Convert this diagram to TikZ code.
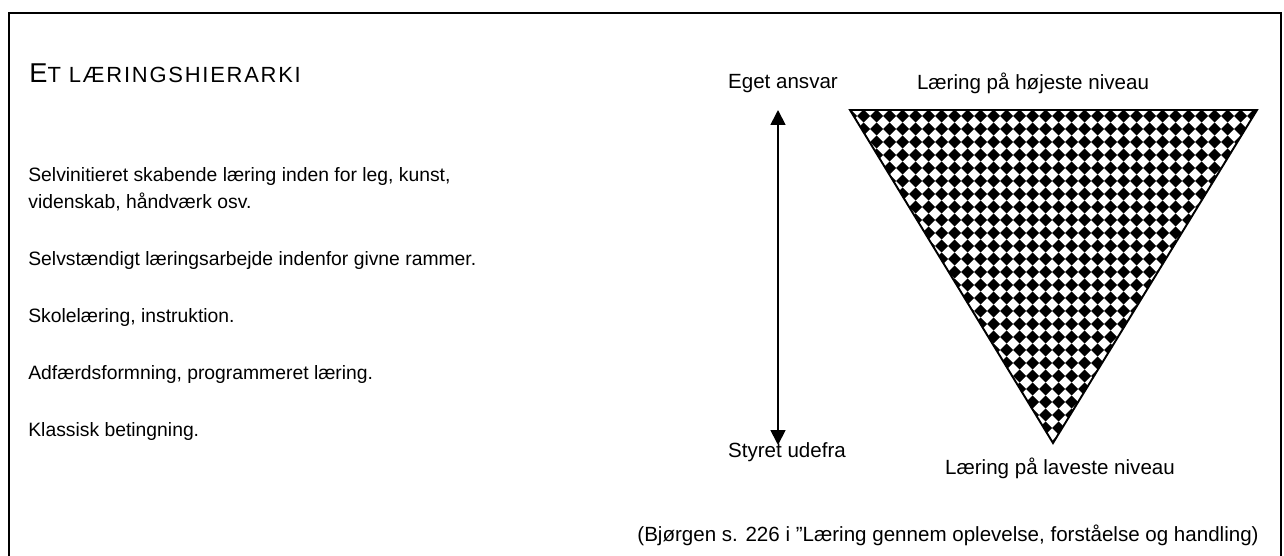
\documentclass[tikz,border=0pt]{standalone}
\usepackage{fontspec}
\setmainfont{Liberation Sans}
\usetikzlibrary{positioning,arrows.meta}

\begin{document}
\begin{tikzpicture}[x=0.02cm,y=-0.02cm,
		every node/.style={font=\fontsize{11}{13}\selectfont, inner sep=0pt},
		level/.style={anchor=base west},
		sidelabel/.style={font=\fontsize{11.7}{14}\selectfont}]
		% Define colors
		\definecolor{checker}{RGB}{0, 0, 0}
		
		\useasboundingbox (0,0) rectangle (1284,555);
		
		% ===== FRAME =====
		\draw[line width=1.2pt] (9,570) -- (9,13) -- (1281,13) -- (1281,570);
		
		% ===== TITLE =====
		\node[level] (title) at (29,82) {\addfontfeature{LetterSpace=8}{\fontsize{15.5}{17}\selectfont E}{\fontsize{12.5}{14}\selectfont T LÆRINGSHIERARKI}};
		
		% ===== LEVELS (top to bottom) =====
		\node[level] (lvl5a) at (28,181) {Selvinitieret skabende læring inden for leg, kunst,};
		\node[level] (lvl5b) at (28,208) {videnskab, håndværk osv.};
		\node[level] (lvl4) at (28,265) {Selvstændigt læringsarbejde indenfor givne rammer.};
		\node[level] (lvl3) at (28,322) {Skolelæring, instruktion.};
		\node[level] (lvl2) at (28,379) {Adfærdsformning, programmeret læring.};
		\node[level] (lvl1) at (28,436) {Klassisk betingning.};
		
		% ===== RESPONSIBILITY ARROW =====
		\node[sidelabel] (ansvar) at (783,84) {Eget ansvar};
		\node[sidelabel] (udefra) at (787,452) {Styret udefra};
		\coordinate (arrowtop) at (778,110);
		\coordinate (arrowbot) at (778,445);
		\draw[{Triangle[length=8.5pt,width=8.5pt]}-{Triangle[length=8.5pt,width=8.5pt]}, line width=1pt] (arrowtop) -- (arrowbot);
		
		% ===== TRIANGLE =====
		\coordinate (tl) at (850,110);
		\coordinate (tr) at (1257,110);
		\coordinate (tip) at (1053,443);
		\begin{scope}
			\clip (tl) -- (tr) -- (tip) -- cycle;
			\foreach \i in {0,...,32}
			\foreach \j in {0,...,26}
			\fill[checker] (844+\i*13,116+\j*13) -- ++(6.5,-6.5) -- ++(6.5,6.5) -- ++(-6.5,6.5) -- cycle;
		\end{scope}
		\draw[line width=1.1pt, line join=miter] (tl) -- (tr) -- (tip) -- cycle;
		\node[sidelabel] (hoejeste) at (1033,83) {Læring på højeste niveau};
		\node[sidelabel] (laveste) at (1060,468) {Læring på laveste niveau};
		
		% Source
		\node[sidelabel, anchor=base east] (kilde) at (1259,541) {(Bjørgen s. 226 i ”Læring gennem oplevelse, forståelse og handling)};
		
	\end{tikzpicture}
\end{document}
